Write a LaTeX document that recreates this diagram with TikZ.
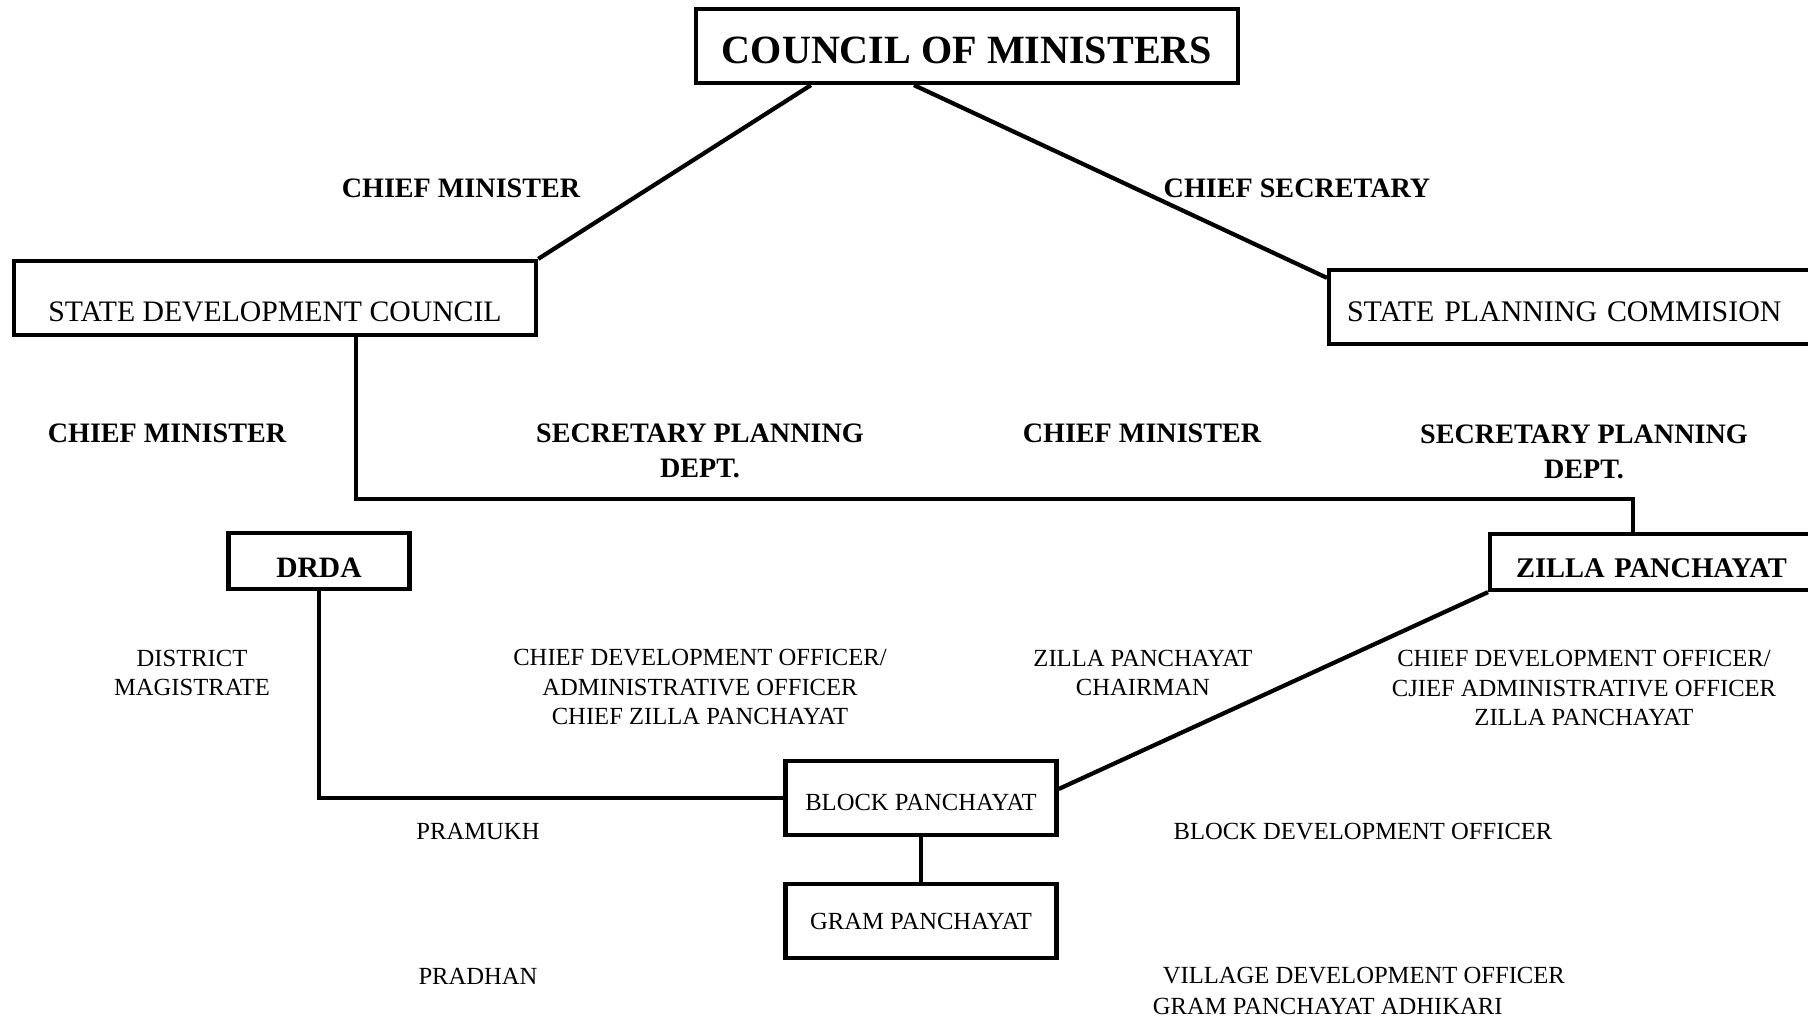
\documentclass[tikz,border=0pt]{standalone}
\usepackage{fontspec}
\setmainfont{Liberation Serif}
\usepackage{tikz}
\usetikzlibrary{positioning}

\begin{document}
\begin{tikzpicture}[x=0.01cm, y=-0.01cm, line width=1.2pt,
  box/.style={draw, inner sep=0pt, minimum height=0.74cm},
  lbl/.style={font=\fontsize{7}{8.3}\selectfont, align=center},
  lblb/.style={font=\fontsize{8}{9.8}\selectfont\bfseries, align=center}]

  \useasboundingbox (0,0) rectangle (1808,1018);

  \node [box, minimum width=5.42cm, text height=0.355cm, text depth=0pt, font=\fontsize{11.4}{13}\selectfont\bfseries] (CoM) at (967,46) {COUNCIL OF MINISTERS};
  \node [box, minimum width=5.22cm, text height=0.46cm, text depth=0pt, font=\fontsize{8.45}{10}\selectfont] (SDC) at (275,298) {STATE DEVELOPMENT COUNCIL};
  \node [box, anchor=west, inner xsep=0.18cm, text width=4.6cm, align=left, text height=0.29cm, text depth=0pt, font=\fontsize{8.5}{10}\selectfont] (SPC) at (1327,307) {STATE PLANNING COMMISION};
  \node [box, minimum width=1.81cm, minimum height=0.56cm, text height=0.32cm, text depth=0pt, font=\fontsize{8.4}{10}\selectfont\bfseries] (DRDA) at (319,561) {DRDA};
  \node [box, anchor=west, minimum height=0.56cm, inner xsep=0.26cm, text width=3.1cm, align=left, text height=0.315cm, text depth=0pt, font=\fontsize{8.1}{10}\selectfont\bfseries] (ZP) at (1488,562) {ZILLA PANCHAYAT};
  \node [box, minimum width=2.71cm, text height=0.255cm, text depth=0pt, font=\fontsize{7}{8.3}\selectfont] (BP) at (921,798) {BLOCK PANCHAYAT};
  \node [box, minimum width=2.71cm, below=0.45cm of BP, font=\fontsize{7}{8.3}\selectfont] (GP) {GRAM PANCHAYAT};

  % who heads what
  \node [lblb] (cm1) at (461,188) {CHIEF MINISTER};
  \node [lblb] (cs) at (1297,188) {CHIEF SECRETARY};
  \node [lblb] (cm2) at (167,433) {CHIEF MINISTER};
  \node [lblb] (spd1) at (700,451) {SECRETARY PLANNING\\DEPT.};
  \node [lblb] (cm3) at (1142,433) {CHIEF MINISTER};
  \node [lblb] (spd2) at (1584,452) {SECRETARY PLANNING\\DEPT.};

  \node [lbl] (dm) at (192,673) {DISTRICT\\MAGISTRATE};
  \node [lbl] (cdo1) at (700,687) {CHIEF DEVELOPMENT OFFICER/\\ADMINISTRATIVE OFFICER\\CHIEF ZILLA PANCHAYAT};
  \node [lbl] (zpc) at (1143,673) {ZILLA PANCHAYAT\\CHAIRMAN};
  \node [lbl] (cdo2) at (1584,688) {CHIEF DEVELOPMENT OFFICER/\\CJIEF ADMINISTRATIVE OFFICER\\ZILLA PANCHAYAT};
  \node [lbl] (pr) at (478,831) {PRAMUKH};
  \node [lbl] (bdo) at (1363,832) {BLOCK DEVELOPMENT OFFICER};
  \node [lbl] (pd) at (478,976) {PRADHAN};
  \node [lbl, anchor=west, align=left, font=\fontsize{7}{8.6}\selectfont] (vdo) at (1139,991) {\hspace{0.1cm}VILLAGE DEVELOPMENT OFFICER\\GRAM PANCHAYAT ADHIKARI};

  \coordinate (bend) at (1633,499);

  \draw ([xshift=-1.56cm]CoM.south) -- (SDC.north east);
  \draw ([xshift=-0.53cm]CoM.south) -- ([yshift=-0.1cm]SPC.north west);
  \draw ([xshift=0.81cm]SDC.south) |- (bend) -- (bend |- ZP.north);
  \draw (DRDA.south) |- (BP.west);
  \draw (ZP.south west) -- ([yshift=0.09cm]BP.east);
  \draw (BP.south) -- (GP.north);
\end{tikzpicture}
\end{document}
